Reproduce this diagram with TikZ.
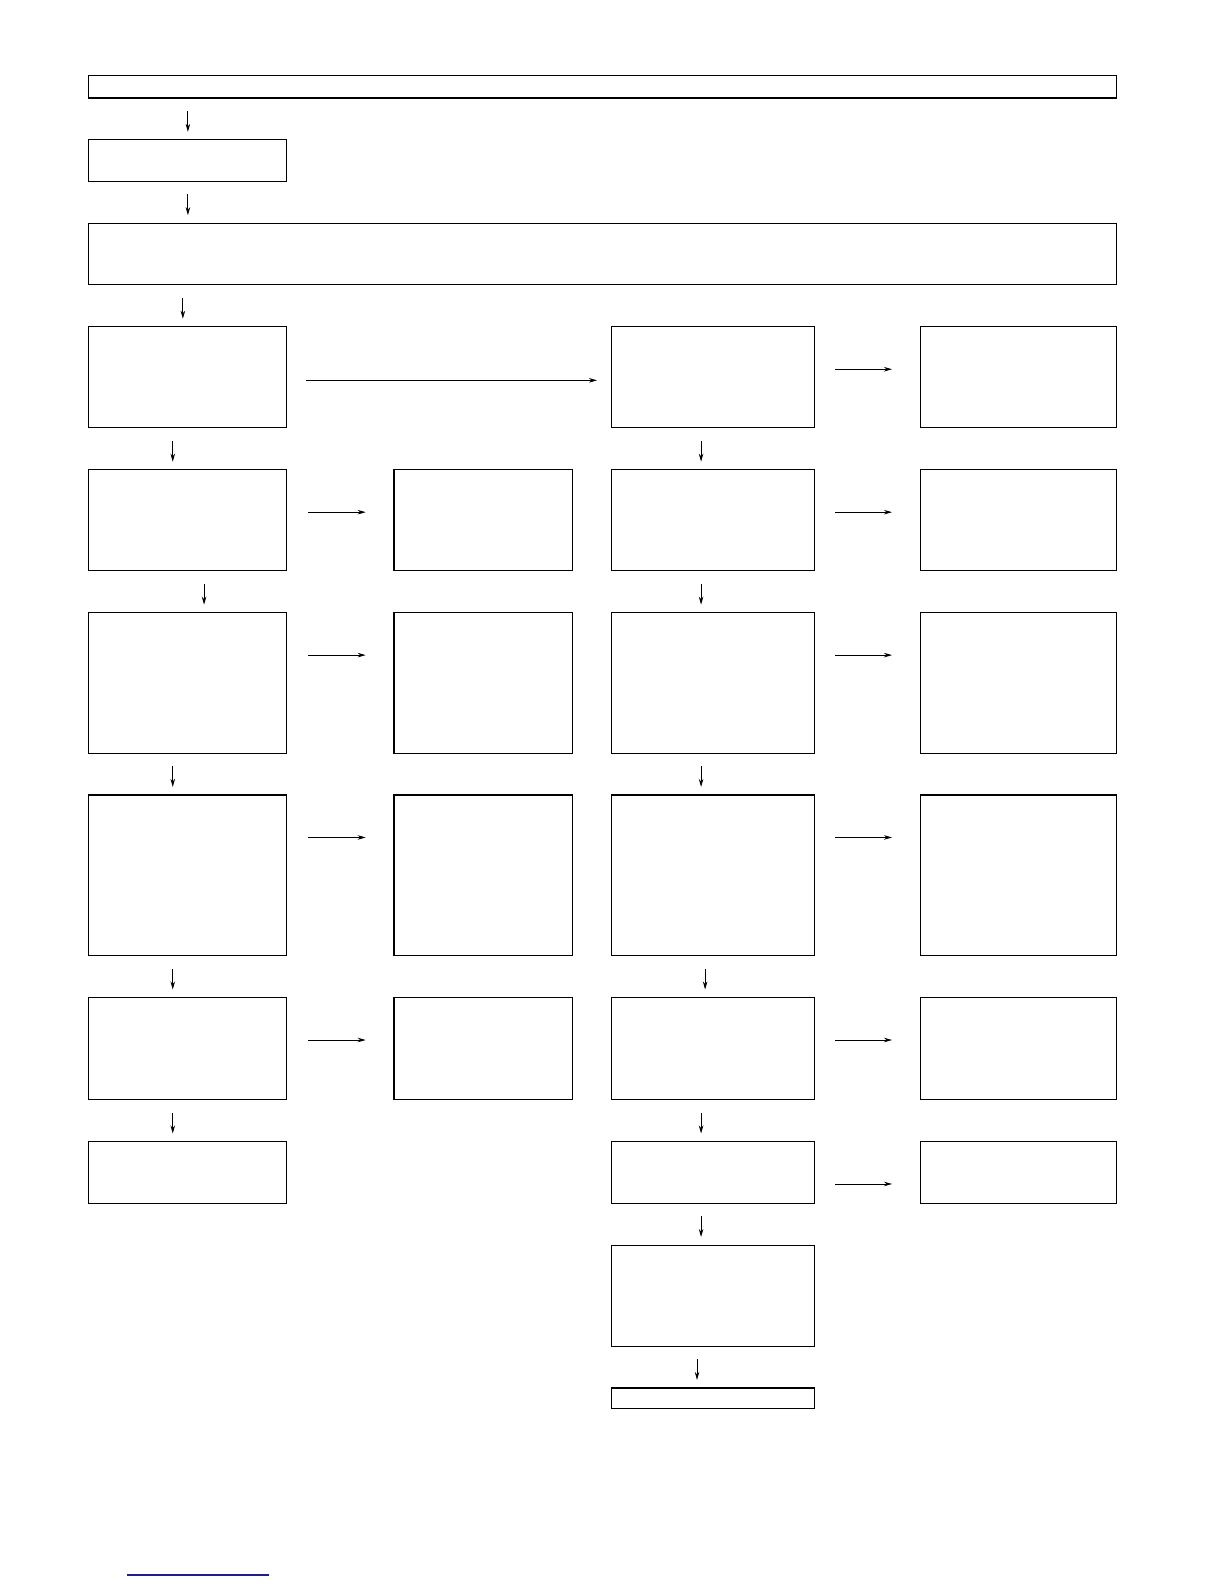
\documentclass[tikz,border=0pt]{standalone}
\usetikzlibrary{positioning, arrows.meta}
\definecolor{linkblue}{RGB}{30,30,140}
\tikzset{
>={Stealth[length=8pt, width=4.5pt]}, % narrow filled heads
node distance=41.5pt, % gap between two stages. Change if necessary.
stage/.style={draw, rectangle, line width=1.1pt, inner sep=0pt, outer sep=0pt}, % empty boxes
flow/.style={->, line width=0.8pt},
down/.style={flow, shorten <=13pt, shorten >=8pt}, % arrows between rows
side/.style={flow, shorten <=21pt, shorten >=28pt}, % arrows between columns
}

\begin{document}
\begin{tikzpicture}[x=1pt, y=-1pt]
            \useasboundingbox (0,0) rectangle (1212,1568);
            \node[stage, minimum width=1017pt, minimum height=22pt, anchor=north west] (head) at (88,75) {};
            \node[stage, minimum width=196pt, minimum height=41pt, below=of head.south west, anchor=north west] (mode) {};
            \node[stage, minimum width=1017pt, minimum height=61pt, below=of mode.south west, anchor=north west] (setup) {};
            % left column
            \node[stage, minimum width=196pt, minimum height=100pt, below=of setup.south west, anchor=north west] (a1) {};
            \node[stage, minimum width=196pt, minimum height=100pt, below=of a1] (a2) {};
            \node[stage, minimum width=196pt, minimum height=139pt, below=of a2] (a3) {};
            \node[stage, minimum width=196pt, minimum height=159pt, below=of a3] (a4) {};
            \node[stage, minimum width=196pt, minimum height=101pt, below=of a4] (a5) {};
            \node[stage, minimum width=196pt, minimum height=61pt, below=of a5] (a6) {};
            % middle column
            \node[stage, minimum width=177pt, minimum height=100pt, right=106pt of a2] (b2) {};
            \node[stage, minimum width=177pt, minimum height=139pt, right=106pt of a3] (b3) {};
            \node[stage, minimum width=177pt, minimum height=159pt, right=106pt of a4] (b4) {};
            \node[stage, minimum width=177pt, minimum height=101pt, right=106pt of a5] (b5) {};
            % right column
            \node[stage, minimum width=201pt, minimum height=100pt, right=321pt of a1] (c1) {};
            \node[stage, minimum width=201pt, minimum height=100pt, below=of c1] (c2) {};
            \node[stage, minimum width=201pt, minimum height=139pt, below=of c2] (c3) {};
            \node[stage, minimum width=201pt, minimum height=159pt, below=of c3] (c4) {};
            \node[stage, minimum width=201pt, minimum height=101pt, below=of c4] (c5) {};
            \node[stage, minimum width=201pt, minimum height=61pt, below=of c5] (c6) {};
            \node[stage, minimum width=201pt, minimum height=100pt, below=of c6] (c7) {};
            \node[stage, minimum width=201pt, minimum height=20pt, below=of c7] (c8) {};
            % far right column
            \node[stage, minimum width=194pt, minimum height=100pt, right=105pt of c1] (d1) {};
            \node[stage, minimum width=194pt, minimum height=100pt, right=105pt of c2] (d2) {};
            \node[stage, minimum width=194pt, minimum height=139pt, right=105pt of c3] (d3) {};
            \node[stage, minimum width=194pt, minimum height=159pt, right=105pt of c4] (d4) {};
            \node[stage, minimum width=194pt, minimum height=101pt, right=105pt of c5] (d5) {};
            \node[stage, minimum width=194pt, minimum height=61pt, right=105pt of c6] (d6) {};
            \draw
                (mode.north |- head.south) edge[down] (mode.north)
                (mode.south) edge[down] (mode.south |- setup.north)
                ([xshift=-5pt]a1.north |- setup.south) edge[down] ([xshift=-5pt]a1.north)
                ([xshift=-15pt]a1.south) edge[down] ([xshift=-15pt]a2.north)
                ([xshift=16pt]a2.south) edge[down] ([xshift=16pt]a3.north)
                ([xshift=-15pt]a3.south) edge[down] ([xshift=-15pt]a4.north)
                ([xshift=-15pt]a4.south) edge[down] ([xshift=-15pt]a5.north)
                ([xshift=-15pt]a5.south) edge[down] ([xshift=-15pt]a6.north)
                ([xshift=-11.5pt]c1.south) edge[down] ([xshift=-11.5pt]c2.north)
                ([xshift=-11.5pt]c2.south) edge[down] ([xshift=-11.5pt]c3.north)
                ([xshift=-11.5pt]c3.south) edge[down] ([xshift=-11.5pt]c4.north)
                ([xshift=-7.5pt]c4.south) edge[down] ([xshift=-7.5pt]c5.north)
                ([xshift=-11.5pt]c5.south) edge[down] ([xshift=-11.5pt]c6.north)
                ([xshift=-11.5pt]c6.south) edge[down] ([xshift=-11.5pt]c7.north)
                ([xshift=-15.5pt]c7.south) edge[down] ([xshift=-15.5pt]c8.north);
            \draw
                ([yshift=-53pt]a1.north east) edge[flow, shorten <=19pt, shorten >=14pt] ([yshift=-53pt]c1.north west)
                ([yshift=-42pt]a2.north east) edge[side] ([yshift=-42pt]b2.north west)
                ([yshift=-42pt]a3.north east) edge[side] ([yshift=-42pt]b3.north west)
                ([yshift=-42pt]a4.north east) edge[side] ([yshift=-42pt]b4.north west)
                ([yshift=-42pt]a5.north east) edge[side] ([yshift=-42pt]b5.north west)
                ([yshift=-42pt]c1.north east) edge[side] ([yshift=-42pt]d1.north west)
                ([yshift=-42pt]c2.north east) edge[side] ([yshift=-42pt]d2.north west)
                ([yshift=-42pt]c3.north east) edge[side] ([yshift=-42pt]d3.north west)
                ([yshift=-42pt]c4.north east) edge[side] ([yshift=-42pt]d4.north west)
                ([yshift=-42pt]c5.north east) edge[side] ([yshift=-42pt]d5.north west)
                ([yshift=-42pt]c6.north east) edge[side] ([yshift=-42pt]d6.north west);
            \draw[line width=1.3pt, linkblue] (126,1559) -- (266,1559);
        \end{tikzpicture}
\end{document}
